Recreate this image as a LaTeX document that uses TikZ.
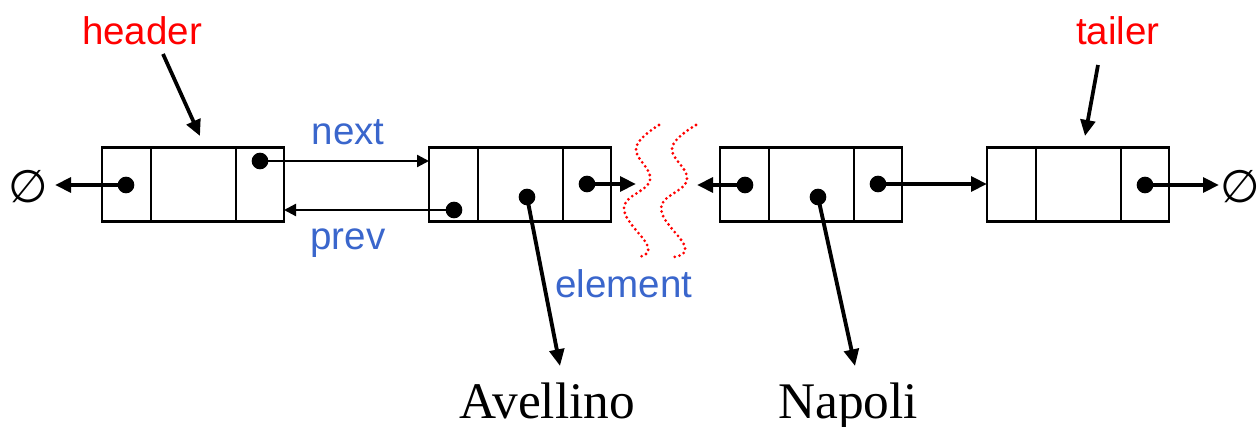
\documentclass[tikz,border=0pt]{standalone}
\usepackage{fontspec}
\setmainfont{Liberation Serif}
\setsansfont{Liberation Sans}
\newfontfamily\symfont{DejaVu Sans}
\usetikzlibrary{arrows.meta}
\definecolor{lblred}{RGB}{255,0,0}
\definecolor{lblblue}{RGB}{58,102,204}
\begin{document}
\begin{tikzpicture}[x=0.75pt,y=-0.75pt,
  cell/.style={draw, line width=1.6pt, minimum height=55.5pt, inner sep=0pt, outer sep=0pt, anchor=west},
  ptr/.style={circle, fill, minimum size=12.5pt, inner sep=0pt},
  thinarrow/.style={line width=1.7pt, -{Triangle[length=9pt,width=9pt]}},
  bigarrow/.style={line width=2.8pt, -{Triangle[length=12pt,width=11pt]}},
  elemarrow/.style={line width=2.9pt, -{Triangle[length=12.5pt,width=11pt]}},
  redlbl/.style={text=lblred, font=\sffamily\fontsize{28.9}{32}\selectfont, anchor=base, inner sep=0pt},
  bluelbl/.style={text=lblblue, font=\sffamily\fontsize{28.9}{32}\selectfont, anchor=base, inner sep=0pt},
  elemtxt/.style={font=\fontsize{38.5}{42}\selectfont, anchor=base, inner sep=0pt},
  nulltxt/.style={font=\symfont\fontsize{34}{36}\selectfont, inner sep=0pt},
  wave/.style={draw=lblred, line width=2.3pt, line cap=round, dash pattern=on 0pt off 3.7pt}
]
\useasboundingbox (0,0) rectangle (1260,427);

% list nodes: prev cell, element cell, next cell
\node[cell, minimum width=36.75pt] (n1p) at (102,184.5) {};
\node[cell, minimum width=63.75pt] (n1e) at (151,184.5) {};
\node[cell, minimum width=36pt]    (n1n) at (236,184.5) {};

\node[cell, minimum width=36.75pt] (n2p) at (429,184.5) {};
\node[cell, minimum width=63.75pt] (n2e) at (478,184.5) {};
\node[cell, minimum width=36pt]    (n2n) at (563,184.5) {};

\node[cell, minimum width=36.75pt] (n3p) at (720,184.5) {};
\node[cell, minimum width=63.75pt] (n3e) at (769,184.5) {};
\node[cell, minimum width=36pt]    (n3n) at (854,184.5) {};

\node[cell, minimum width=36.75pt] (n4p) at (987,184.5) {};
\node[cell, minimum width=63.75pt] (n4e) at (1036,184.5) {};
\node[cell, minimum width=36pt]    (n4n) at (1121,184.5) {};

% pointer dots
\node[ptr] (d1p) at (126,185) {};
\node[ptr] (d1n) at (260,161) {};
\node[ptr] (d2p) at (454,210) {};
\node[ptr] (d2e) at (527,197) {};
\node[ptr] (d2n) at (587,184) {};
\node[ptr] (d3p) at (745,185) {};
\node[ptr] (d3e) at (818,197) {};
\node[ptr] (d3n) at (878,184) {};
\node[ptr] (d4n) at (1145,185) {};

% null symbols
\node[nulltxt] (nullL) at (28,187) {∅};
\node[nulltxt] (nullR) at (1240,187) {∅};

% labels
\node[redlbl] (hdr) at (142,45) {header};
\node[redlbl] (tlr) at (1118,45) {tailer};
\node[bluelbl] (lnext) at (348,145) {next};
\node[bluelbl] (lprev) at (348,250) {prev};
\node[bluelbl] (lelem) at (624,298) {element};
\node[elemtxt] (avl) at (547,418) {Avellino};
\node[elemtxt] (nap) at (848,418) {Napoli};

% free ends
\coordinate (nullLtip) at (55,185);
\coordinate (nullRtip) at (1219,185);
\coordinate (gapL) at (636,184);
\coordinate (gapR) at (697,185);
\coordinate (avltip) at (560,366);
\coordinate (naptip) at (855,366);
\coordinate (hdrstart) at (163,54);
\coordinate (hdrtip) at (200,136);
\coordinate (tlrstart) at (1098,65);
\coordinate (tlrtip) at (1085,136);

% connectors
\draw[bigarrow] (d1p.center) -- (nullLtip);
\draw[thinarrow] (d1n.center) -- (d1n -| n2p.west);
\draw[thinarrow] (d2p.center) -- (d2p -| n1n.east);
\draw[bigarrow] (d2n.center) -- (gapL);
\draw[bigarrow] (d3p.center) -- (gapR);
\draw[bigarrow] (d3n.center) -- (d3n -| n4p.west);
\draw[bigarrow] (d4n.center) -- (nullRtip);
\draw[elemarrow] (d2e.center) -- (avltip);
\draw[elemarrow] (d3e.center) -- (naptip);
\draw[bigarrow] (hdrstart) -- (hdrtip);
\draw[bigarrow] (tlrstart) -- (tlrtip);

% break marks
\draw[wave] plot[smooth, tension=0.7] coordinates {(659,125) (636,148) (650,180) (624,208) (648,247) (637,257)};
\draw[wave] plot[smooth, tension=0.7] coordinates {(696,125) (672,148) (687,180) (661,208) (685,247) (673,257)};
\end{tikzpicture}
\end{document}
